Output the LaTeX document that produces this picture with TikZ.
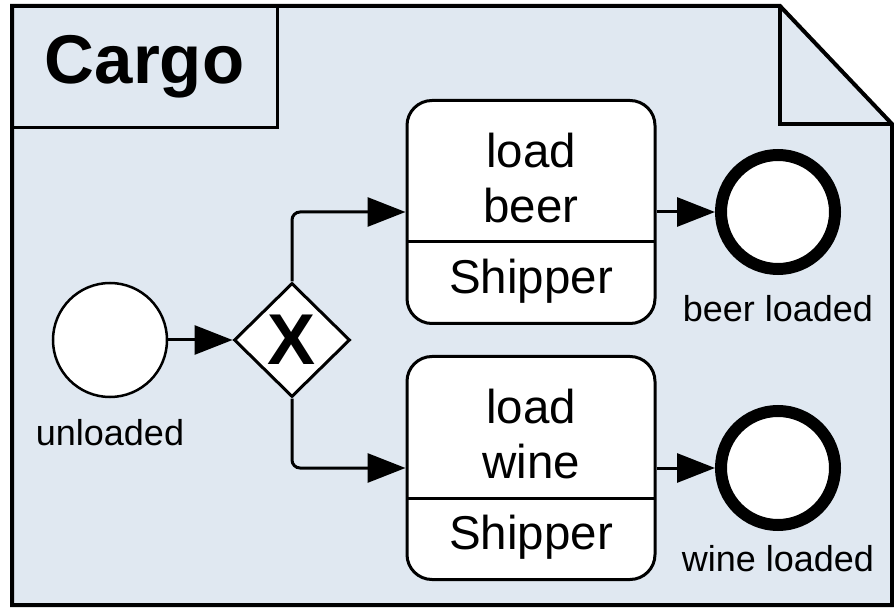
\documentclass[tikz,border=0pt]{standalone}
\usepackage{fontspec}
\setmainfont{Liberation Sans}
\usetikzlibrary{positioning,shapes.geometric,arrows.meta}
\definecolor{poolblue}{RGB}{224,232,241}
\tikzset{
  pool/.style={draw, line width=4pt, fill=poolblue},
  foldline/.style={draw, line width=4pt},
  pooltitle/.style={draw, line width=3pt, outer sep=0pt, minimum width=265pt, minimum height=122pt, font=\bfseries\fontsize{69}{82}\selectfont},
  startevent/.style={circle, draw, line width=2.5pt, fill=white, minimum size=114pt, inner sep=0pt},
  endevent/.style={circle, draw, line width=12pt, fill=white, minimum size=114pt, inner sep=0pt},
  gateway/.style={diamond, draw, line width=3pt, fill=white, minimum width=116pt, minimum height=114pt, inner sep=0pt, font=\bfseries\fontsize{72}{86}\selectfont},
  task/.style={rectangle, draw, line width=3pt, fill=white, rounded corners=25pt, minimum width=248pt, minimum height=223pt},
  tasktext/.style={align=center, inner sep=0pt, font=\fontsize{47.5}{55}\selectfont},
  evlabel/.style={inner sep=0pt, font=\fontsize{36}{43}\selectfont},
  divider/.style={line width=3pt},
  flow/.style={line width=3pt, rounded corners=8pt, -{Triangle[length=38pt,width=29pt]}}
}

\begin{document}
\begin{tikzpicture}[x=1pt, y=-1pt]
    \useasboundingbox (0,0) rectangle (894,609);

    % pool with folded corner
    \draw[pool] (12,6) -- (780,6) -- (892,124) -- (892,605) -- (12,605) -- cycle;
    \draw[foldline] (780,6) -- (780,124) -- (892,124);
    \node[pooltitle, anchor=north west] (title) at (12,6) {Cargo};

    % Define nodes
    \node[startevent] (start) at (110,340) {};
    \node[evlabel, below=21pt of start] (startlbl) {unloaded};
    \node[gateway] (gw) at (292,340) {X};

    \node[task] (beer) at (531,212) {};
    \node[tasktext] (beername) at (531,178) {load\\beer};
    \node[tasktext] (beerrole) at (531,281) {Shipper};
    \draw[divider] (407,242) -- (655,242);

    \node[task] (wine) at (531,468) {};
    \node[tasktext] (winename) at (531,434) {load\\wine};
    \node[tasktext] (winerole) at (531,537) {Shipper};
    \draw[divider] (407,498) -- (655,498);

    \node[endevent] (beerend) at (778,212) {};
    \node[evlabel, below=20pt of beerend] (beerlbl) {beer loaded};
    \node[endevent] (wineend) at (778,468) {};
    \node[evlabel, below=14pt of wineend] (winelbl) {wine loaded};

    % Connect nodes
    \draw[flow] (start) -- (gw);
    \draw[flow] (gw.north) |- (beer);
    \draw[flow] (gw.south) |- (wine);
    \draw[flow] (beer) -- (beerend);
    \draw[flow] (wine) -- (wineend);
\end{tikzpicture}
\end{document}
